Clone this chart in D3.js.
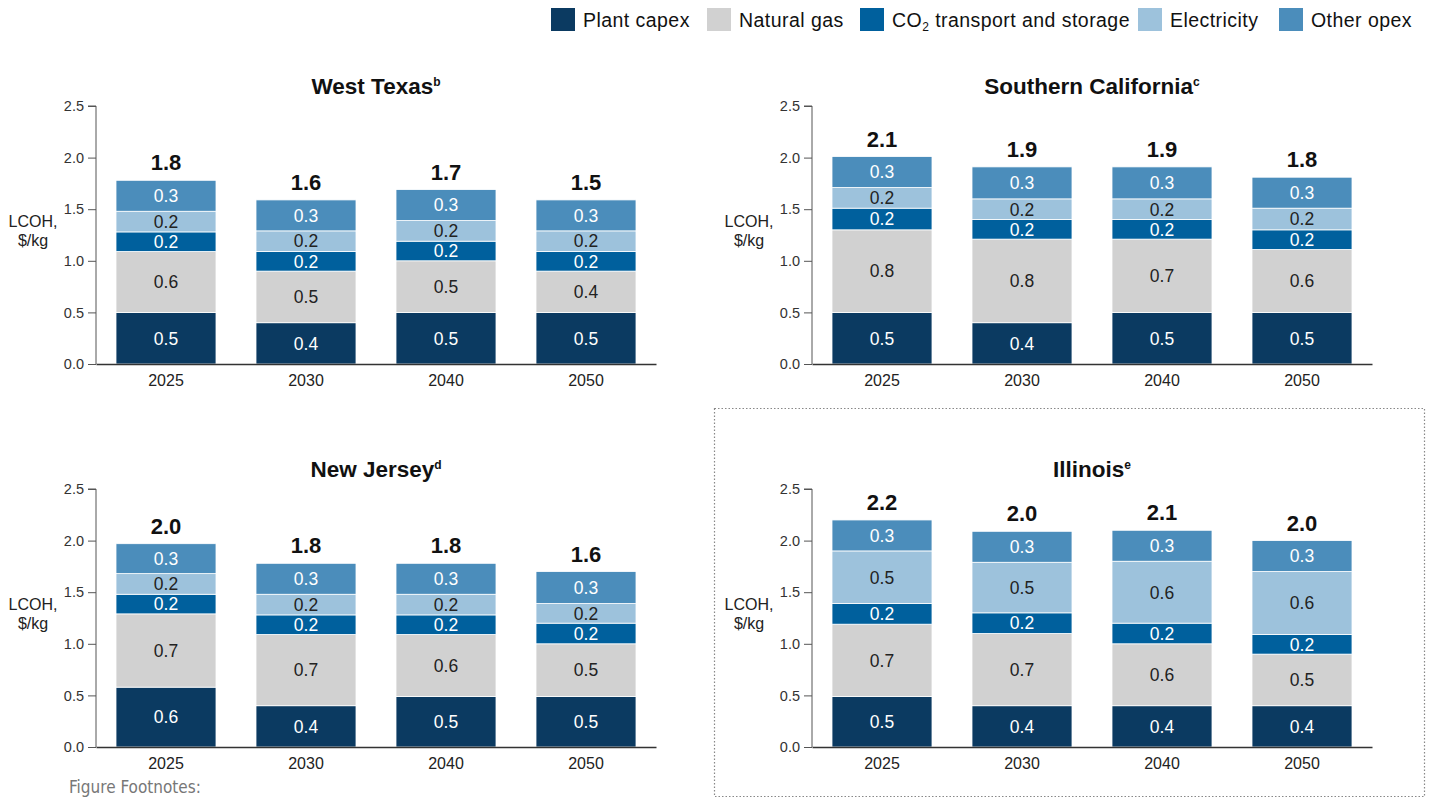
<!DOCTYPE html>
<html><head><meta charset="utf-8">
<script src="https://cdn.jsdelivr.net/npm/d3@7"></script>
<style>
body{margin:0;background:#fff;}
svg{display:block;font-family:"Liberation Sans",Arial,sans-serif;}
</style></head><body>
<svg id="chart" width="1430" height="798"></svg>
<script>
const years = ["2025","2030","2040","2050"];
const seriesNames = ["Plant capex","Natural gas","CO2 transport and storage","Electricity","Other opex"];
const seriesColors = ["#0b3a61","#d1d1d1","#00609d","#9dc2dc","#4b8dbb"];
const seriesTextColors = ["#fff","#222","#fff","#222","#fff"];
const yTicks = [0,0.5,1,1.5,2,2.5];

// segment heights per year: [capex, natural gas, CO2 T&S, electricity, other opex]
const westTexasValues = [[0.5,0.59,0.19,0.2,0.3],[0.4,0.5,0.19,0.2,0.3],[0.5,0.5,0.19,0.2,0.3],[0.5,0.4,0.19,0.2,0.3]];
const westTexasTotals = ["1.8","1.6","1.7","1.5"];
const southCalValues = [[0.5,0.8,0.21,0.2,0.3],[0.4,0.81,0.19,0.2,0.31],[0.5,0.71,0.19,0.2,0.31],[0.5,0.61,0.19,0.21,0.3]];
const southCalTotals = ["2.1","1.9","1.9","1.8"];
const newJerseyValues = [[0.58,0.71,0.19,0.2,0.29],[0.4,0.69,0.19,0.2,0.3],[0.49,0.6,0.19,0.2,0.3],[0.49,0.51,0.2,0.19,0.31]];
const newJerseyTotals = ["2.0","1.8","1.8","1.6"];
const illinoisValues = [[0.49,0.7,0.2,0.51,0.3],[0.4,0.7,0.2,0.49,0.3],[0.4,0.6,0.2,0.6,0.3],[0.4,0.5,0.19,0.61,0.3]];
const illinoisTotals = ["2.2","2.0","2.1","2.0"];

const panels = [
  {title:"West Texas", sup:"b", values:westTexasValues, totals:westTexasTotals, x0:96, y0:364},
  {title:"Southern California", sup:"c", values:southCalValues, totals:southCalTotals, x0:812, y0:364},
  {title:"New Jersey", sup:"d", values:newJerseyValues, totals:newJerseyTotals, x0:96, y0:747},
  {title:"Illinois", sup:"e", values:illinoisValues, totals:illinoisTotals, x0:812, y0:747}
];

const svg = d3.select("#chart");
const fmt = d3.format(".1f");

// dotted box for Illinois
svg.append("rect").attr("x",714.5).attr("y",408.5).attr("width",710).attr("height",388)
  .attr("fill","none").attr("stroke","#888").attr("stroke-width",1.2).attr("stroke-dasharray","1.5,2");

panels.forEach(p=>{
  const g = svg.append("g");
  const x = d3.scaleBand().domain(years).range([p.x0, p.x0+560]).paddingInner(40/140).paddingOuter(20/140);
  const y = d3.scaleLinear().domain([0,2.5]).range([p.y0, p.y0-258]);

  years.forEach((yr,i)=>{
    let cum = 0;
    p.values[i].forEach((v,k)=>{
      const y1 = y(cum), y2 = y(cum+v);
      g.append("rect").attr("x",x(yr)).attr("y",y2).attr("width",x.bandwidth()).attr("height",y1-y2)
        .attr("fill",seriesColors[k]).attr("stroke","#fff").attr("stroke-width",0.8);
      g.append("text").attr("x",x(yr)+x.bandwidth()/2).attr("y",(y1+y2)/2).attr("dy","0.36em")
        .attr("text-anchor","middle").style("font-size","17.5px").attr("fill",seriesTextColors[k]).text(fmt(v));
      cum += v;
    });
    g.append("text").attr("x",x(yr)+x.bandwidth()/2).attr("y",y(cum)-10)
      .attr("text-anchor","middle").style("font-size","22px").attr("font-weight","bold").attr("fill","#111").text(p.totals[i]);
  });

  const ya = g.append("g").attr("transform",`translate(${p.x0},0)`)
    .call(d3.axisLeft(y).tickValues(yTicks).tickFormat(fmt).tickSize(8).tickPadding(4));
  ya.attr("font-size",null).attr("font-family",null);
  ya.selectAll("text").style("font-size","14.5px").attr("fill","#333");
  ya.selectAll("line,path").attr("stroke","#555");
  ya.select(".domain").attr("d",`M-8,${y(2.5)}H0V${y(0)}`);

  const xa = g.append("g").attr("transform",`translate(0,${p.y0})`)
    .call(d3.axisBottom(x).tickSize(0).tickPadding(11));
  xa.attr("font-size",null).attr("font-family",null);
  xa.selectAll("text").style("font-size","16px").attr("fill","#222");
  xa.select(".domain").attr("stroke","#333").attr("stroke-width",1.3);

  const yl = g.append("text").attr("text-anchor","middle").style("font-size","16px").attr("fill","#222");
  yl.append("tspan").attr("x",p.x0-63).attr("y",p.y0-137).text("LCOH,");
  yl.append("tspan").attr("x",p.x0-63).attr("y",p.y0-118).text("$/kg");

  const t = g.append("text").attr("x",p.x0+280).attr("y",p.y0-270).attr("text-anchor","middle")
    .style("font-size","22.5px").attr("font-weight","bold").attr("fill","#111");
  t.append("tspan").text(p.title);
  t.append("tspan").style("font-size","12px").attr("dy",-8).text(p.sup);
});

// legend
const legendItems = [
  {x:551, k:0}, {x:707, k:1}, {x:860, k:2}, {x:1138, k:3}, {x:1279, k:4}
];
legendItems.forEach(it=>{
  svg.append("rect").attr("x",it.x).attr("y",8).attr("width",24).attr("height",23).attr("fill",seriesColors[it.k]);
  const tx = svg.append("text").attr("x",it.x+32).attr("y",27).style("font-size","19.5px").attr("fill","#111")
    .attr("letter-spacing",0.45);
  if(it.k===2){
    tx.append("tspan").text("CO");
    tx.append("tspan").style("font-size","12px").attr("dy",4).text("2");
    tx.append("tspan").attr("dy",-4).text(" transport and storage");
  } else tx.text(seriesNames[it.k]);
});

// footnote
svg.append("text").attr("x",69).attr("y",793).style("font-size","17px").attr("fill","#777")
  .attr("font-family","'DejaVu Sans Condensed','Roboto',sans-serif").attr("font-stretch","condensed")
  .text("Figure Footnotes:");
</script>
</body></html>
